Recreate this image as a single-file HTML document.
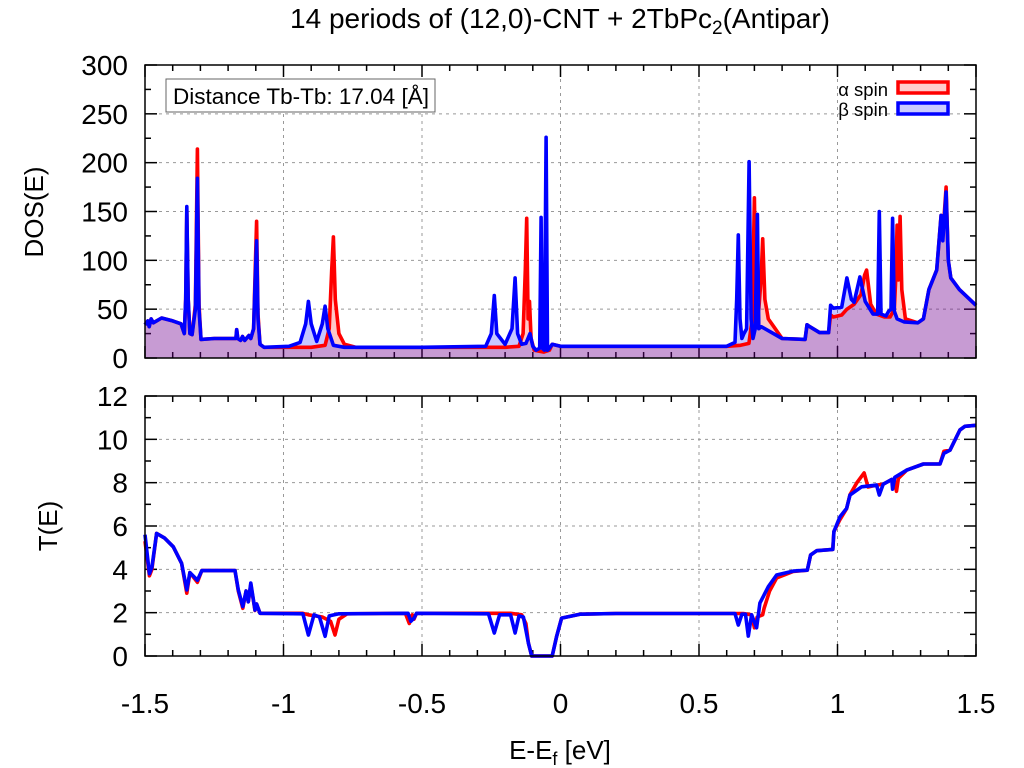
<!DOCTYPE html>
<html><head><meta charset="utf-8"><style>
body{margin:0;background:#fff}
svg{display:block;font-family:"Liberation Sans",sans-serif}
</style></head><body>
<svg id="c" width="1024" height="768" viewBox="0 0 1024 768">
<text x="560" y="28" font-size="28" text-anchor="middle">14 periods of (12,0)-CNT + 2TbPc<tspan font-size="19" dy="6">2</tspan><tspan dy="-6">(Antipar)</tspan></text>
<text transform="translate(43,212) rotate(-90)" font-size="26" text-anchor="middle">DOS(E)</text>
<text transform="translate(57,526) rotate(-90)" font-size="26" text-anchor="middle">T(E)</text>
<text x="560" y="759" font-size="26" text-anchor="middle">E-E<tspan font-size="18" dy="6">f</tspan><tspan dy="-6"> [eV]</tspan></text>
<g id="topg"></g>
<g id="botg"></g>
<rect x="166" y="79" width="269" height="33" fill="#fff" stroke="#666" stroke-width="1"/>
<text x="173" y="104" font-size="22.5">Distance Tb-Tb: 17.04 [Å]</text>
<g>
<text x="888" y="96" font-size="18.5" text-anchor="end">α spin</text>
<rect x="898" y="82" width="50" height="11" fill="rgb(255,204,204)" stroke="#f00" stroke-width="3.5"/>
<text x="888" y="116" font-size="18.5" text-anchor="end">β spin</text>
<rect x="898" y="103" width="50" height="11" fill="rgb(204,204,255)" stroke="#00f" stroke-width="3.5"/>
</g>
</svg>
<script>
const xTicks=[-1.5,-1,-0.5,0,0.5,1,1.5];
const xTickLabels=["-1.5","-1","-0.5","0","0.5","1","1.5"];
const dosTicks=[0,50,100,150,200,250,300];
const tTicks=[0,2,4,6,8,10,12];
const dosAlpha=[[-1.5,34],[-1.49,38],[-1.485,32],[-1.478,40],[-1.47,36],[-1.44,41],[-1.40,38],[-1.37,35],[-1.358,25],[-1.353,60],[-1.349,150],[-1.344,60],[-1.338,25],[-1.33,24],[-1.318,55],[-1.311,214],[-1.305,55],[-1.298,19],[-1.25,20],[-1.172,20],[-1.169,29],[-1.165,20],[-1.155,18],[-1.148,22],[-1.14,18],[-1.125,23],[-1.118,20],[-1.108,30],[-1.102,90],[-1.097,140],[-1.092,45],[-1.085,14],[-1.07,11],[-0.90,11],[-0.85,13],[-0.835,30],[-0.826,90],[-0.820,124],[-0.813,60],[-0.80,25],[-0.78,14],[-0.74,11],[-0.5,11],[-0.2,11],[-0.15,12],[-0.135,25],[-0.127,90],[-0.122,143],[-0.117,40],[-0.112,58],[-0.106,20],[-0.095,8],[-0.06,6],[-0.04,8],[-0.03,14],[0,12],[0.3,12],[0.6,12],[0.65,13],[0.68,15],[0.692,40],[0.700,164],[0.705,60],[0.709,80],[0.716,50],[0.724,80],[0.730,122],[0.738,60],[0.75,40],[0.77,32],[0.80,20],[0.883,19],[0.89,34],[0.90,32],[0.935,26],[0.968,26],[0.975,44],[0.985,42],[1.015,44],[1.034,50],[1.06,55],[1.085,65],[1.098,85],[1.105,90],[1.12,55],[1.14,45],[1.17,42],[1.19,42],[1.205,50],[1.21,80],[1.215,136],[1.220,80],[1.226,145],[1.232,70],[1.245,40],[1.29,36],[1.31,40],[1.33,70],[1.358,90],[1.374,146],[1.38,125],[1.392,175],[1.40,100],[1.409,82],[1.44,70],[1.47,62],[1.5,54]];
const dosBeta=[[-1.5,34],[-1.49,38],[-1.485,32],[-1.478,40],[-1.47,36],[-1.44,41],[-1.40,38],[-1.37,35],[-1.358,25],[-1.353,60],[-1.349,155],[-1.344,60],[-1.338,25],[-1.33,24],[-1.318,50],[-1.311,184],[-1.305,50],[-1.298,19],[-1.25,20],[-1.172,20],[-1.169,29],[-1.165,20],[-1.155,18],[-1.148,22],[-1.14,18],[-1.125,23],[-1.118,20],[-1.108,30],[-1.102,80],[-1.097,120],[-1.092,40],[-1.085,14],[-1.07,11],[-0.98,12],[-0.94,16],[-0.92,35],[-0.91,58],[-0.90,35],[-0.88,17],[-0.86,35],[-0.85,53],[-0.84,30],[-0.82,13],[-0.78,11],[-0.5,11],[-0.27,12],[-0.25,25],[-0.239,64],[-0.23,25],[-0.2,14],[-0.175,30],[-0.164,82],[-0.155,25],[-0.14,14],[-0.125,15],[-0.11,25],[-0.10,12],[-0.088,8],[-0.075,10],[-0.070,144],[-0.066,10],[-0.058,8],[-0.052,226],[-0.047,8],[-0.04,10],[-0.03,14],[0,12],[0.3,12],[0.6,12],[0.63,16],[0.636,60],[0.642,126],[0.648,40],[0.655,20],[0.662,25],[0.672,30],[0.681,201],[0.688,40],[0.695,20],[0.703,30],[0.711,147],[0.716,30],[0.725,32],[0.80,20],[0.883,19],[0.89,34],[0.90,32],[0.935,26],[0.968,26],[0.975,54],[0.985,51],[1.015,52],[1.034,82],[1.05,60],[1.06,57],[1.081,83],[1.10,58],[1.128,45],[1.145,45],[1.151,150],[1.157,45],[1.175,43],[1.185,48],[1.193,50],[1.199,143],[1.205,48],[1.215,40],[1.24,37],[1.29,36],[1.31,40],[1.33,70],[1.358,90],[1.374,146],[1.38,120],[1.392,170],[1.40,100],[1.409,82],[1.44,70],[1.47,62],[1.5,54]];
const tAlpha=[[-1.5,5.3],[-1.484,3.7],[-1.475,4.0],[-1.458,5.66],[-1.43,5.45],[-1.398,5.04],[-1.368,4.28],[-1.349,2.9],[-1.338,3.85],[-1.311,3.4],[-1.295,3.94],[-1.175,3.94],[-1.163,3.0],[-1.147,2.2],[-1.135,3.0],[-1.127,2.5],[-1.118,3.3],[-1.103,2.1],[-1.097,2.4],[-1.085,1.97],[-0.93,1.97],[-0.91,1.9],[-0.86,1.8],[-0.83,1.6],[-0.814,0.97],[-0.80,1.7],[-0.77,1.95],[-0.56,1.97],[-0.546,1.5],[-0.535,1.9],[-0.529,1.7],[-0.52,1.97],[-0.18,1.97],[-0.14,1.9],[-0.125,1.5],[-0.116,0.6],[-0.104,0],[-0.030,0],[-0.014,0.9],[0.004,1.75],[0.07,1.93],[0.2,1.96],[0.66,1.96],[0.69,1.9],[0.70,1.3],[0.71,1.8],[0.73,1.9],[0.735,2.2],[0.755,3.0],[0.78,3.6],[0.84,3.9],[0.891,3.96],[0.903,4.66],[0.925,4.86],[0.983,4.92],[0.987,5.74],[1.009,6.3],[1.033,6.8],[1.045,7.45],[1.07,8.0],[1.096,8.45],[1.11,7.8],[1.141,7.89],[1.165,7.93],[1.196,8.15],[1.205,8.1],[1.213,7.6],[1.22,8.2],[1.25,8.58],[1.31,8.86],[1.37,8.86],[1.384,9.45],[1.406,9.5],[1.442,10.43],[1.46,10.6],[1.5,10.65]];
const tBeta=[[-1.5,5.6],[-1.484,3.8],[-1.475,4.1],[-1.458,5.66],[-1.43,5.45],[-1.398,5.04],[-1.368,4.28],[-1.349,3.05],[-1.338,3.85],[-1.311,3.5],[-1.295,3.94],[-1.175,3.94],[-1.163,3.05],[-1.147,2.28],[-1.135,3.0],[-1.127,2.5],[-1.118,3.37],[-1.103,2.12],[-1.097,2.4],[-1.085,1.97],[-0.93,1.95],[-0.91,0.97],[-0.89,1.9],[-0.87,1.8],[-0.85,0.91],[-0.835,1.85],[-0.80,1.95],[-0.55,1.97],[-0.54,1.6],[-0.529,1.75],[-0.52,1.97],[-0.26,1.95],[-0.239,1.06],[-0.22,1.9],[-0.18,1.9],[-0.164,1.06],[-0.15,1.85],[-0.134,1.8],[-0.116,0.6],[-0.104,0],[-0.030,0],[-0.014,0.9],[0.004,1.75],[0.07,1.93],[0.2,1.96],[0.63,1.96],[0.642,1.43],[0.655,1.93],[0.668,1.93],[0.678,0.92],[0.69,1.9],[0.708,1.3],[0.720,2.44],[0.750,3.2],[0.780,3.74],[0.840,3.92],[0.891,3.96],[0.903,4.66],[0.925,4.86],[0.983,4.92],[0.987,5.74],[1.009,6.43],[1.033,6.81],[1.045,7.43],[1.087,7.81],[1.141,7.89],[1.151,7.43],[1.165,7.93],[1.196,8.15],[1.199,7.7],[1.207,8.25],[1.25,8.58],[1.31,8.86],[1.37,8.86],[1.384,9.35],[1.406,9.5],[1.442,10.43],[1.46,10.6],[1.5,10.65]];

const NS="http://www.w3.org/2000/svg";
const X0=145,X1=976;
const xs=v=>X0+(v+1.5)/3*(X1-X0);
const T1={y0:358,y1:65,max:300},B1={y0:656,y1:396,max:12};
const ys=(p,v)=>p.y0-v/p.max*(p.y0-p.y1);
function mk(parent,tag,attrs){const e=document.createElementNS(NS,tag);for(const k in attrs)e.setAttribute(k,attrs[k]);parent.appendChild(e);return e;}
function panel(g,p,ticks,minorStep,showX){
  for(let i=1;i<xTicks.length-1;i++){const l=mk(g,'line',{x1:xs(xTicks[i]),x2:xs(xTicks[i]),y1:p.y1,y2:p.y0,stroke:'#999','stroke-dasharray':'3,4','stroke-width':1});
    
    }
  for(let i=1;i<ticks.length-1;i++){const l=mk(g,'line',{x1:X0,x2:X1,y1:ys(p,ticks[i]),y2:ys(p,ticks[i]),stroke:'#999','stroke-dasharray':'3,4','stroke-width':1});
    
    }
  ticks.forEach(t=>{const y=ys(p,t);
    mk(g,'line',{x1:X0,x2:X0+12,y1:y,y2:y,stroke:'#000','stroke-width':1.5});
    mk(g,'line',{x1:X1,x2:X1-12,y1:y,y2:y,stroke:'#000','stroke-width':1.5});
    const tx=mk(g,'text',{x:128,y:y+10,'font-size':28,'text-anchor':'end'});tx.textContent=t;
    
    });
  for(let v=minorStep;v<p.max;v+=2*minorStep){const y=ys(p,v);
    mk(g,'line',{x1:X0,x2:X0+6,y1:y,y2:y,stroke:'#000','stroke-width':1.5});
    mk(g,'line',{x1:X1,x2:X1-6,y1:y,y2:y,stroke:'#000','stroke-width':1.5});}
  for(let k=0;k<=30;k++){const v=-1.5+k*0.1;const x=xs(v);const L=(k%5===0)?12:6;
    mk(g,'line',{x1:x,x2:x,y1:p.y0,y2:p.y0-L,stroke:'#000','stroke-width':1.5});
    mk(g,'line',{x1:x,x2:x,y1:p.y1,y2:p.y1+L,stroke:'#000','stroke-width':1.5});}
  if(showX) xTicks.forEach((t,i)=>{const tx=mk(g,'text',{x:xs(t),y:p.y0+57,'font-size':28,'text-anchor':'middle'});tx.textContent=xTickLabels[i];
    
    });
}
function pathD(arr,p){return arr.map((d,i)=>(i?'L':'M')+xs(d[0]).toFixed(1)+','+ys(p,d[1]).toFixed(1)).join('');}
const topG=document.getElementById('topg'),botG=document.getElementById('botg');
panel(topG,T1,dosTicks,25,false);
panel(botG,B1,tTicks,1,true);
[[dosAlpha,'rgba(255,0,0,0.22)','dos-alpha-fill'],[dosBeta,'rgba(0,0,255,0.22)','dos-beta-fill']].forEach(([a,c,n])=>{
  const f=mk(topG,'path',{d:pathD(a,T1)+'L'+xs(1.5)+','+T1.y0+'L'+xs(-1.5)+','+T1.y0+'Z',fill:c,stroke:'none'});
  
  });
[[dosAlpha,'#f00','dos-alpha-line'],[dosBeta,'#00f','dos-beta-line']].forEach(([a,c,n])=>{
  const l=mk(topG,'path',{d:pathD(a,T1),fill:'none',stroke:c,'stroke-width':3.6,'stroke-linejoin':'round'});
  
  });
[[tAlpha,'#f00','t-alpha-line'],[tBeta,'#00f','t-beta-line']].forEach(([a,c,n])=>{
  const l=mk(botG,'path',{d:pathD(a,B1),fill:'none',stroke:c,'stroke-width':3.6,'stroke-linejoin':'round'});
  
  });
[[T1,topG,'dos-frame'],[B1,botG,'transmission-frame']].forEach(([p,g,n])=>{
  const r=mk(g,'rect',{x:X0,y:p.y1,width:X1-X0,height:p.y0-p.y1,fill:'none',stroke:'#000','stroke-width':1.5});
  
  });
</script>
</body></html>
